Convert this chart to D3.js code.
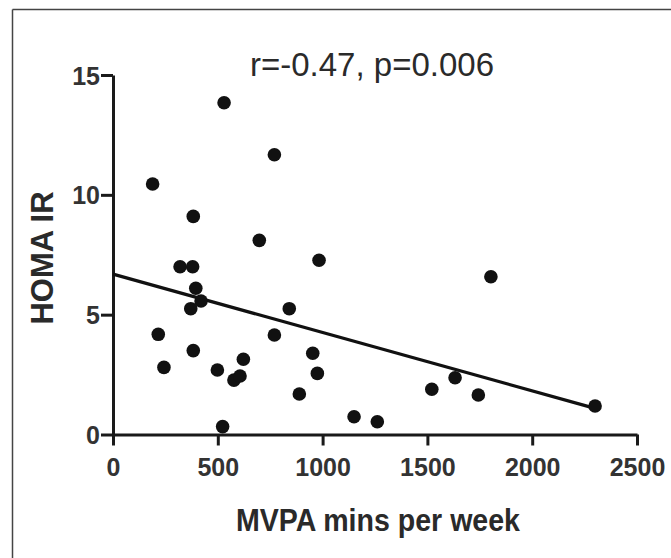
<!DOCTYPE html>
<html>
<head>
<meta charset="utf-8">
<script src="https://cdn.jsdelivr.net/npm/d3@7"></script>
<style>
  body { margin: 0; background: #fff; }
  svg { display: block; }
  .axis path, .axis line { stroke: #1a1a1a; stroke-width: 3; }
  .axis text { font-family: "Liberation Sans", Arial, sans-serif; font-weight: bold; fill: #333; }
</style>
</head>
<body>
<div id="chart"></div>
<script>
// values
const mvpaMins = [530, 770, 189, 383, 698, 983, 320, 380, 395, 420,
                  371, 841, 216, 770, 383, 622, 953, 243, 498, 577,
                  606, 975, 889, 1150, 1261, 523, 1803, 1521, 1632, 1743, 2300];
const homaIR   = [13.84, 11.67, 10.45, 9.10, 8.10, 7.27, 7.00, 7.00, 6.10, 5.57,
                  5.25, 5.25, 4.18, 4.15, 3.50, 3.14, 3.39, 2.80, 2.69, 2.27,
                  2.44, 2.55, 1.69, 0.74, 0.53, 0.33, 6.58, 1.89, 2.37, 1.65, 1.19];
// regression line end points
const fitX = [0, 2300];
const fitY = [6.69, 1.09];

const xTicks = [0, 500, 1000, 1500, 2000, 2500];
const yTicks = [0, 5, 10, 15];

const width = 671;
const height = 558;

const svg = d3.select("#chart").append("svg")
    .attr("width", width)
    .attr("height", height);

// frame (top and left edges only in the reference)
svg.append("line")
    .attr("x1", 12.5).attr("y1", 9.5).attr("x2", width).attr("y2", 9.5)
    .attr("stroke", "#444").attr("stroke-width", 1.5);
svg.append("line")
    .attr("x1", 12.5).attr("y1", 9.5).attr("x2", 12.5).attr("y2", height)
    .attr("stroke", "#444").attr("stroke-width", 1.5);

const x = d3.scaleLinear().domain([0, 2500]).range([113, 637]);
const y = d3.scaleLinear().domain([0, 15]).range([434.5, 75]);

// x axis
const gx = svg.append("g")
    .attr("class", "axis")
    .attr("transform", "translate(0," + y(0) + ")")
    .call(d3.axisBottom(x).tickValues(xTicks).tickSize(11).tickSizeOuter(0).tickFormat(d3.format("d")));
gx.selectAll("text")
    .attr("y", 41).attr("dy", null)
    .style("font-size", "25px");

// y axis
const gy = svg.append("g")
    .attr("class", "axis")
    .attr("transform", "translate(" + x(0) + ",0)")
    .call(d3.axisLeft(y).tickValues(yTicks).tickSize(12).tickSizeOuter(0));
gy.selectAll("text")
    .attr("x", -13)
    .attr("dy", "0.36em")
    .style("font-size", "25px");

// regression line
svg.append("line")
    .attr("x1", x(fitX[0])).attr("y1", y(fitY[0]))
    .attr("x2", x(fitX[1])).attr("y2", y(fitY[1]))
    .attr("stroke", "#111")
    .attr("stroke-width", 3.2);

// points
svg.selectAll("circle.pt")
    .data(mvpaMins.map((d, i) => [d, homaIR[i]]))
    .enter()
    .append("circle")
    .attr("class", "pt")
    .attr("cx", d => x(d[0]))
    .attr("cy", d => y(d[1]))
    .attr("r", 6.8)
    .attr("fill", "#111");

// stats text
svg.append("text")
    .attr("x", 372)
    .attr("y", 76)
    .attr("text-anchor", "middle")
    .style("font-family", "Liberation Sans, Arial, sans-serif")
    .style("font-size", "33px")
    .style("fill", "#2a2a2a")
    .text("r=-0.47, p=0.006");

// x label
svg.append("text")
    .attr("x", 378)
    .attr("y", 531)
    .attr("text-anchor", "middle")
    .attr("textLength", 284)
    .attr("lengthAdjust", "spacingAndGlyphs")
    .style("font-family", "Liberation Sans, Arial, sans-serif")
    .style("font-weight", "bold")
    .style("font-size", "32px")
    .style("fill", "#2a2a2a")
    .text("MVPA mins per week");

// y label
svg.append("text")
    .attr("transform", "translate(53,258) rotate(-90)")
    .attr("text-anchor", "middle")
    .attr("textLength", 133)
    .attr("lengthAdjust", "spacingAndGlyphs")
    .style("font-family", "Liberation Sans, Arial, sans-serif")
    .style("font-weight", "bold")
    .style("font-size", "32px")
    .style("fill", "#2a2a2a")
    .text("HOMA IR");
</script>
</body>
</html>
